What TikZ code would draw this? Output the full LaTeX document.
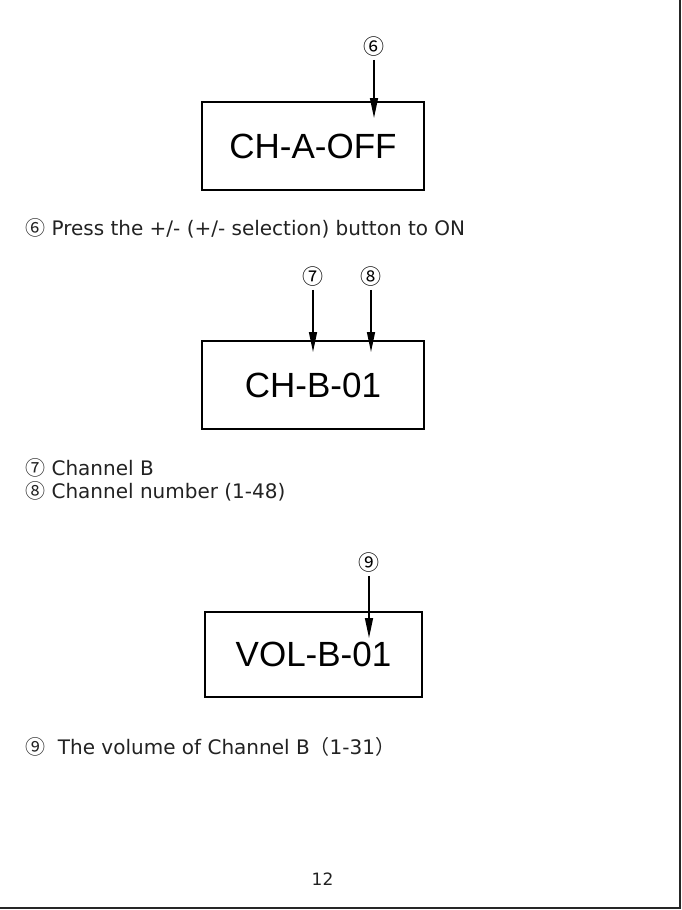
\documentclass[tikz,border=0pt]{standalone}
\usepackage{fontspec}
\setmainfont{DejaVu Sans}
\newfontfamily\boxfont{Liberation Sans}
\newfontfamily\cjk{Noto Sans CJK SC}
\usetikzlibrary{arrows.meta}
\definecolor{ink}{HTML}{222222}
\begin{document}
\begin{tikzpicture}[x=1pt,y=-1pt,
  dispbox/.style={draw,line width=2.2pt,inner sep=0pt,font=\boxfont\fontsize{35}{40}\selectfont},
  callout/.style={inner sep=0pt,font=\cjk\fontsize{21}{22}\selectfont},
  pointer/.style={line width=1.5pt,-{Triangle[length=20pt,width=8pt]},shorten <=3pt},
  note/.style={anchor=base west,inner sep=0pt,text=ink,font=\fontsize{20}{22}\selectfont},
  frame/.style={line width=2pt,color=black!85}]
\useasboundingbox (0,0) rectangle (682,910);
\draw[frame] (0,908) -- (680,908) -- (680,0);

% box 1
\node[dispbox,minimum width=222pt,minimum height=88pt] (b1) at (313,146) {CH-A-OFF};
\node[callout] (n6) at (374,47) {⑥};
\coordinate (t6) at (374,118);
\draw[pointer] (n6.south) -- (t6);
\node[note] (l6) at (25,235) {{\cjk ⑥} Press the +/- (+/- selection) button to ON};

% box 2
\node[dispbox,minimum width=222pt,minimum height=88pt] (b2) at (313,385) {CH-B-01};
\node[callout] (n7) at (313,277) {⑦};
\node[callout] (n8) at (371,277) {⑧};
\coordinate (t7) at (313,352);
\coordinate (t8) at (371,352);
\draw[pointer] (n7.south) -- (t7);
\draw[pointer] (n8.south) -- (t8);
\node[note] (l7) at (25,475) {{\cjk ⑦} Channel B};
\node[note] (l8) at (25,498) {{\cjk ⑧} Channel number (1-48)};

% box 3
\node[dispbox,minimum width=217pt,minimum height=85pt] (b3) at (313.5,654.5) {VOL-B-01};
\node[callout] (n9) at (369,563) {⑨};
\coordinate (t9) at (369,638);
\draw[pointer] (n9.south) -- (t9);
\node[note] (l9) at (25,754) {{\cjk ⑨}\ \ The volume of Channel B{\cjk （}1-31{\cjk ）}};

\node[anchor=base,inner sep=0pt,text=ink,font=\fontsize{17}{19}\selectfont] (pg) at (322.5,885) {12};
\end{tikzpicture}
\end{document}
